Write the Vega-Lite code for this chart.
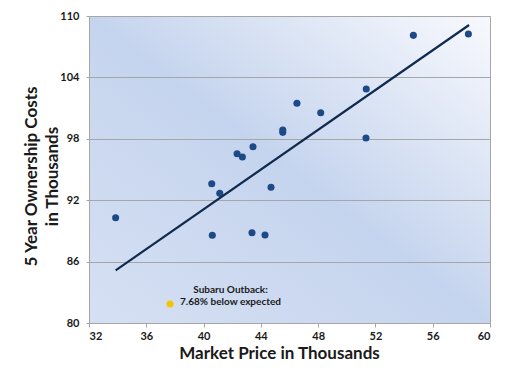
{
  "$schema": "https://vega.github.io/schema/vega-lite/v6.json",
  "width": 401,
  "height": 307,
  "autosize": {"type": "none"},
  "padding": {"left": 89, "top": 16, "right": 20, "bottom": 46},
  "background": "white",
  "datasets": {
    "vehicles": [
      {"price": 33.86, "cost": 90.29},
      {"price": 40.57, "cost": 93.61},
      {"price": 41.13, "cost": 92.67},
      {"price": 40.61, "cost": 88.57},
      {"price": 42.34, "cost": 96.54},
      {"price": 42.71, "cost": 96.22},
      {"price": 43.45, "cost": 97.23},
      {"price": 43.38, "cost": 88.82},
      {"price": 44.29, "cost": 88.6},
      {"price": 44.71, "cost": 93.26},
      {"price": 45.53, "cost": 98.86},
      {"price": 45.53, "cost": 98.63},
      {"price": 46.52, "cost": 101.47},
      {"price": 48.18, "cost": 100.55},
      {"price": 51.36, "cost": 102.87},
      {"price": 51.34, "cost": 98.08},
      {"price": 54.65, "cost": 108.11},
      {"price": 58.49, "cost": 108.24}
    ],
    "trend": [
      {"price": 33.86, "cost": 85.14},
      {"price": 58.54, "cost": 109.12}
    ],
    "subaru": [
      {"price": 37.66, "cost": 81.85}
    ],
    "note": [
      {"price": 41.88, "cost": 83.25, "label": "Subaru Outback:"},
      {"price": 41.88, "cost": 82.02, "label": "7.68% below expected"}
    ]
  },
  "config": {
    "view": {
      "fill": {
        "gradient": "linear",
        "x1": 0, "y1": 1, "x2": 1, "y2": 0,
        "stops": [
          {"offset": 0, "color": "#d6e0f3"},
          {"offset": 0.5, "color": "#c5d4ee"},
          {"offset": 1, "color": "#f8f9fd"}
        ]
      },
      "stroke": "#a6a6a6",
      "strokeWidth": 1
    },
    "font": "Lato",
    "axis": {
      "labelFont": "Lato",
      "labelFontWeight": "bold",
      "labelFontSize": 11,
      "labelColor": "#1a1a1a",
      "titleFont": "Lato",
      "titleFontWeight": "bold",
      "titleColor": "#1a1a1a",
      "domainColor": "#a6a6a6",
      "tickColor": "#a6a6a6",
      "gridColor": "#a6a6a6",
      "gridOpacity": 1
    }
  },
  "encoding": {
    "x": {
      "field": "price",
      "type": "quantitative",
      "scale": {"domain": [32, 60], "nice": false, "zero": false},
      "axis": {
        "values": [32, 36, 40, 44, 48, 52, 56, 60],
        "title": "Market Price in Thousands",
        "titleFontSize": 17,
        "titlePadding": 4,
        "titleX": 190,
        "grid": false,
        "tickSize": 4,
        "labelPadding": 3
      }
    },
    "y": {
      "field": "cost",
      "type": "quantitative",
      "scale": {"domain": [80, 110], "nice": false, "zero": false},
      "axis": {
        "values": [80, 86, 92, 98, 104, 110],
        "title": ["5 Year Ownership Costs", "in Thousands"],
        "titleFontSize": 17,
        "titleLineHeight": 21,
        "titlePadding": -2,
        "titleY": 160,
        "grid": true,
        "tickSize": 3,
        "labelPadding": 7
      }
    }
  },
  "layer": [
    {
      "data": {"name": "vehicles"},
      "mark": {"type": "point", "filled": true, "size": 50, "color": "#1d4a86", "opacity": 1}
    },
    {
      "data": {"name": "trend"},
      "mark": {"type": "line", "color": "#0f2a4e", "strokeWidth": 2.2}
    },
    {
      "data": {"name": "subaru"},
      "mark": {"type": "point", "filled": true, "size": 50, "color": "#f5c400", "opacity": 1}
    },
    {
      "data": {"name": "note"},
      "mark": {"type": "text", "align": "center", "baseline": "middle", "fontWeight": "bold", "fontSize": 10, "color": "#1a1a1a", "font": "Lato"},
      "encoding": {"text": {"field": "label"}}
    }
  ]
}
